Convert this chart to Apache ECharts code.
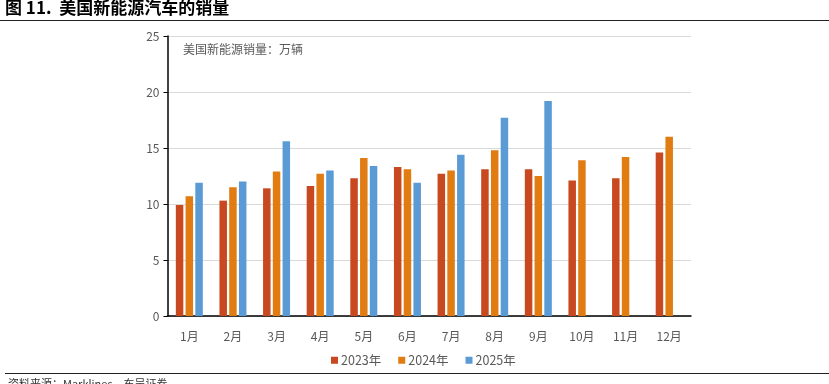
<!DOCTYPE html>
<html>
<head>
<meta charset="utf-8">
<script src="https://cdn.jsdelivr.net/npm/echarts@6/dist/echarts.min.js"></script>
<style>
  html, body { margin: 0; padding: 0; background: #fff; }
  #chart { width: 829px; height: 384px; }
</style>
</head>
<body>
<div id="chart"></div>
<script>
// 月份
var months = ["1月", "2月", "3月", "4月", "5月", "6月", "7月", "8月", "9月", "10月", "11月", "12月"];
// 销量，万辆
var sales2023 = [9.9, 10.3, 11.4, 11.6, 12.3, 13.3, 12.7, 13.1, 13.1, 12.1, 12.3, 14.6];
var sales2024 = [10.7, 11.5, 12.9, 12.7, 14.1, 13.1, 13.0, 14.8, 12.5, 13.9, 14.2, 16.0];
var sales2025 = [11.9, 12.0, 15.6, 13.0, 13.4, 11.9, 14.4, 17.7, 19.2, null, null, null];
var yTicks = [0, 5, 10, 15, 20, 25];

var fontCn = '"Noto Sans CJK SC", "Liberation Sans", sans-serif';
var chart = echarts.init(document.getElementById("chart"));

function barSeries(name, data, color) {
  return {
    name: name,
    type: "bar",
    data: data,
    barWidth: 7.5,
    barGap: "30%",
    itemStyle: { color: color },
    silent: true
  };
}

chart.setOption({
  animation: false,
  textStyle: { fontFamily: fontCn },
  grid: { left: 167.5, right: 138, top: 36, bottom: 68 },
  legend: {
    left: 326,
    top: 349,
    itemWidth: 7,
    itemHeight: 7,
    itemGap: 17,
    icon: "rect",
    textStyle: { color: "#595959", fontSize: 12.5, fontFamily: fontCn, padding: [0, 0, 0, -2] },
    data: ["2023年", "2024年", "2025年"]
  },
  xAxis: {
    type: "category",
    data: months,
    axisLine: { lineStyle: { color: "#000", width: 1.5 } },
    axisTick: { show: false },
    axisLabel: { color: "#595959", fontSize: 12, margin: 14 }
  },
  yAxis: {
    type: "value",
    min: yTicks[0],
    max: yTicks[yTicks.length - 1],
    interval: 5,
    axisLine: { show: true, lineStyle: { color: "#000", width: 1.5 } },
    axisTick: { show: true, length: 4, lineStyle: { color: "#000" } },
    axisLabel: { color: "#595959", fontSize: 12, margin: 8 },
    splitLine: { lineStyle: { color: "#d9d9d9", width: 1 } }
  },
  series: [
    barSeries("2023年", sales2023, "#C8481F"),
    barSeries("2024年", sales2024, "#E07C12"),
    barSeries("2025年", sales2025, "#5B9BD5")
  ],
  graphic: [
    {
      type: "text", left: 5, top: -1,
      style: { text: "图 11.  美国新能源汽车的销量", font: "bold 17px " + fontCn, fill: "#000" }
    },
    {
      type: "line", shape: { x1: 0, y1: 20.5, x2: 829, y2: 20.5 },
      style: { stroke: "#222", lineWidth: 1.2 }
    },
    {
      type: "text", left: 183, top: 43,
      style: { text: "美国新能源销量：万辆", font: "12px " + fontCn, fill: "#595959" }
    },
    {
      type: "line", shape: { x1: 5, y1: 373.5, x2: 829, y2: 373.5 },
      style: { stroke: "#222", lineWidth: 1.2 }
    },
    {
      type: "text", left: 8, top: 378,
      style: { text: "资料来源：Marklines，东吴证券", font: "11px " + fontCn, fill: "#333" }
    }
  ]
});
</script>
</body>
</html>
